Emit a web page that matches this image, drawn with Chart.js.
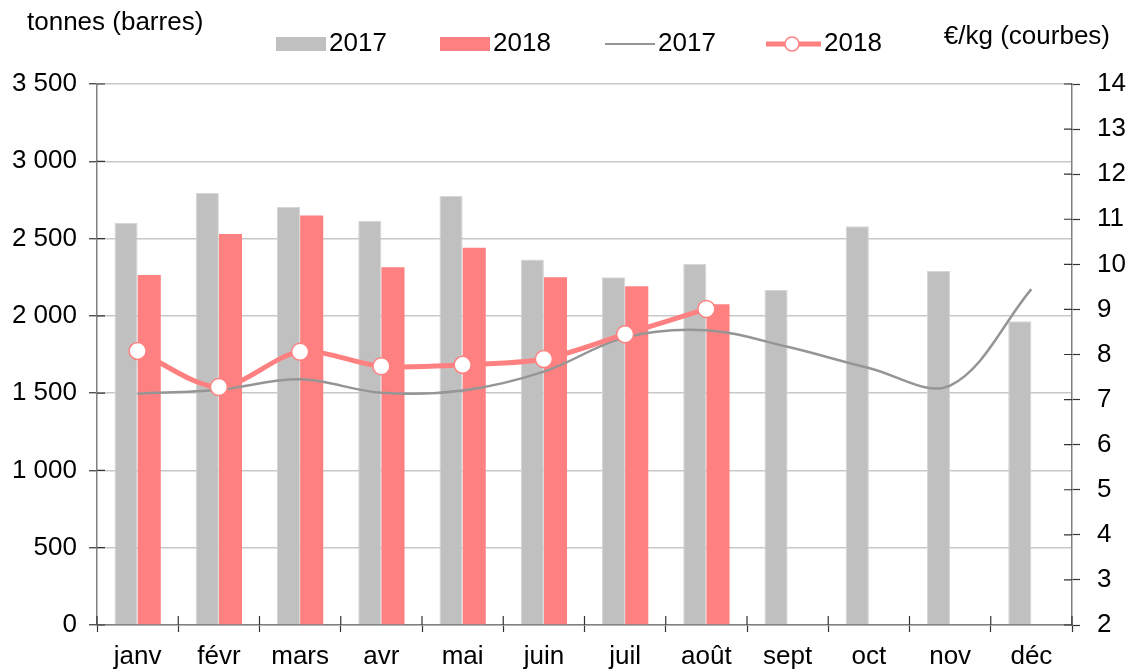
<!DOCTYPE html>
<html lang="fr">
<head>
<meta charset="utf-8">
<title>Tonnes et €/kg 2017–2018</title>
<script src="https://cdn.jsdelivr.net/npm/chart.js@4/dist/chart.umd.min.js"></script>
<style>
  html, body { margin: 0; padding: 0; background: #fff; }
  #wrap { width: 1126px; height: 669px; }
</style>
</head>
<body>
<div id="wrap"><canvas id="chart" width="1126" height="669"></canvas></div>
<script>
const GREY = '#c0c0c0';
const RED = '#ff8080';
const LINE_GREY = '#959595';
const FONT = 'Liberation Sans, Arial, sans-serif';

const MONTHS = ['janv', 'févr', 'mars', 'avr', 'mai', 'juin', 'juil', 'août', 'sept', 'oct', 'nov', 'déc'];
const TONNES_2017 = [2600, 2795, 2705, 2615, 2775, 2365, 2250, 2335, 2168, 2580, 2290, 1965];
const TONNES_2018 = [2265, 2530, 2650, 2315, 2440, 2250, 2192, 2075, null, null, null, null];
const PRIX_2017 = [7.13, 7.22, 7.45, 7.15, 7.2, 7.62, 8.38, 8.54, 8.17, 7.7, 7.31, 9.45];
const PRIX_2018 = [8.08, 7.28, 8.06, 7.74, 7.77, 7.9, 8.45, 9.01, null, null, null, null];

const fmt = (v) => String(v).replace(/\B(?=(\d{3})+(?!\d))/g, ' ');

// tick marks in the reference cross the axis line: draw the inner half here
const innerTicks = {
  id: 'innerTicks',
  afterDatasetsDraw(chart) {
    const { ctx, chartArea: a, scales } = chart;
    ctx.save();
    ctx.strokeStyle = '#333';
    ctx.lineWidth = 1.2;
    ctx.beginPath();
    scales.y.ticks.forEach((_, i) => {
      const py = scales.y.getPixelForTick(i);
      ctx.moveTo(a.left, py); ctx.lineTo(a.left + 8, py);
    });
    scales.y2.ticks.forEach((_, i) => {
      const py = scales.y2.getPixelForTick(i);
      ctx.moveTo(a.right - 8, py); ctx.lineTo(a.right, py);
    });
    const x = scales.x;
    const half = (x.getPixelForTick(1) - x.getPixelForTick(0)) / 2;
    for (let i = 0; i <= MONTHS.length; i++) {
      const px = i < MONTHS.length ? x.getPixelForTick(i) - half : x.getPixelForTick(i - 1) + half;
      ctx.moveTo(px, a.bottom - 9); ctx.lineTo(px, a.bottom);
    }
    ctx.stroke();
    ctx.restore();
  },
};

// axis titles + legend, drawn on the canvas
const decor = {
  id: 'decor',
  afterDraw(chart) {
    const ctx = chart.ctx;
    ctx.save();
    ctx.font = `26px ${FONT}`;
    ctx.fillStyle = '#000';
    ctx.textBaseline = 'middle';
    ctx.textAlign = 'left';
    ctx.fillText('tonnes (barres)', 27, 23);
    ctx.textAlign = 'right';
    ctx.fillText('€/kg (courbes)', 1110, 37);

    const y = 44;
    ctx.textAlign = 'left';
    // bar swatches
    ctx.fillStyle = GREY;
    ctx.fillRect(276, y - 7, 50, 14);
    ctx.fillStyle = RED;
    ctx.fillRect(440, y - 7, 50, 14);
    // line swatches
    ctx.strokeStyle = LINE_GREY;
    ctx.lineWidth = 2;
    ctx.beginPath(); ctx.moveTo(605, y); ctx.lineTo(655, y); ctx.stroke();
    ctx.strokeStyle = RED;
    ctx.lineWidth = 5;
    ctx.beginPath(); ctx.moveTo(766, y); ctx.lineTo(821, y); ctx.stroke();
    ctx.fillStyle = '#fff';
    ctx.lineWidth = 1.5;
    ctx.beginPath(); ctx.arc(792, y, 7, 0, Math.PI * 2); ctx.fill(); ctx.stroke();

    ctx.fillStyle = '#000';
    ctx.fillText('2017', 329, y);
    ctx.fillText('2018', 493, y);
    ctx.fillText('2017', 658, y);
    ctx.fillText('2018', 824, y);
    ctx.restore();
  },
};

new Chart(document.getElementById('chart'), {
  type: 'bar',
  data: {
    labels: MONTHS,
    datasets: [
      {
        type: 'line', label: '2018', data: PRIX_2018, yAxisID: 'y2', order: 0,
        borderColor: RED, borderWidth: 5, tension: 0.3,
        pointRadius: 8.5, pointBackgroundColor: '#fff', pointBorderColor: RED, pointBorderWidth: 1.5,
      },
      {
        type: 'line', label: '2017', data: PRIX_2017, yAxisID: 'y2', order: 1,
        borderColor: LINE_GREY, borderWidth: 2.5, tension: 0.35, pointRadius: 0,
      },
      {
        label: '2017', data: TONNES_2017, yAxisID: 'y', order: 2,
        backgroundColor: GREY, borderColor: '#d6d6d6', borderWidth: 1,
        barPercentage: 1, categoryPercentage: 0.57,
      },
      {
        label: '2018', data: TONNES_2018, yAxisID: 'y', order: 2,
        backgroundColor: RED, borderWidth: 0,
        barPercentage: 1, categoryPercentage: 0.57,
      },
    ],
  },
  options: {
    responsive: false,
    animation: false,
    devicePixelRatio: 1,
    layout: { padding: { top: 84, left: 0, right: 0, bottom: 0 } },
    plugins: { legend: { display: false }, tooltip: { enabled: false } },
    scales: {
      x: {
        afterFit: (s) => { s.height = 44; },
        grid: { offset: true, drawOnChartArea: false, tickLength: 7, tickColor: '#333', tickWidth: 1.2 },
        border: { color: '#808080', width: 1.5 },
        ticks: { color: '#000', font: { family: FONT, size: 26 }, padding: 9, maxRotation: 0 },
      },
      y: {
        position: 'left', min: 0, max: 3500,
        afterFit: (s) => { s.width = 97; },
        grid: { color: '#c8c8c8', lineWidth: 1.5, tickLength: 8, tickColor: '#333', tickWidth: 1.2 },
        border: { color: '#808080', width: 1.5 },
        ticks: { stepSize: 500, color: '#000', font: { family: FONT, size: 26 }, padding: 12, callback: fmt },
      },
      y2: {
        position: 'right', min: 2, max: 14,
        afterFit: (s) => { s.width = 54; },
        grid: { drawOnChartArea: false, tickLength: 8, tickColor: '#333', tickWidth: 1.2 },
        border: { color: '#808080', width: 1.5 },
        ticks: { stepSize: 1, color: '#000', font: { family: FONT, size: 26 }, padding: 17 },
      },
    },
  },
  plugins: [innerTicks, decor],
});
</script>
</body>
</html>
